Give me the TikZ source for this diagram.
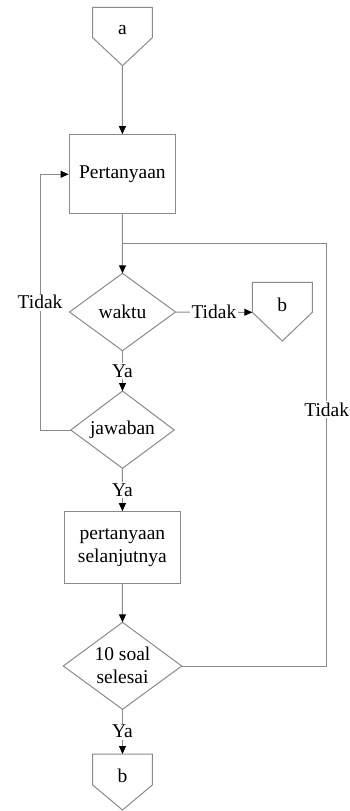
\documentclass[tikz,border=0pt]{standalone}
\usepackage{fontspec}
\setmainfont{Liberation Serif}
\usetikzlibrary{arrows.meta}
\definecolor{ln}{HTML}{8A8A8A}
\tikzset{
  shapeline/.style={draw=ln, line width=1pt},
  flow/.style={draw=ln, line width=1pt, -{Triangle[length=8pt,width=7pt,color=black]}},
  plain/.style={draw=ln, line width=1pt},
  txt/.style={font=\fontsize{19.5}{23}\selectfont, inner sep=0pt, align=center},
  lbl/.style={font=\fontsize{19.5}{23}\selectfont, fill=white, inner sep=1.5pt},
  procbox/.style={shapeline, font=\fontsize{19.5}{23}\selectfont, align=center, inner sep=0pt}
}
\begin{document}
\begin{tikzpicture}[x=1pt,y=-1pt]
\useasboundingbox (0,0) rectangle (350,811);
% connector a
\draw[shapeline] (92.7,7.3) -- (152.3,7.3) -- (152.3,37.7) -- (122.5,65.7) -- (92.7,37.7) -- cycle;
\coordinate (atip) at (122.5,65.7);
\node[txt] (a) at (122.5,30) {a};
% Pertanyaan
\node[procbox, minimum width=106.7pt, minimum height=79.3pt] (P) at (122.4,174.3) {Pertanyaan};
% waktu diamond
\coordinate (wt) at (122.5,273.3);
\coordinate (wr) at (175.5,312);
\coordinate (wb) at (122.5,350.7);
\coordinate (wl) at (69.5,312);
\draw[shapeline] (wt) -- (wr) -- (wb) -- (wl) -- cycle;
\node[txt] (waktu) at (122.5,312) {waktu};
% connector b (right)
\draw[shapeline] (252.3,282.3) -- (312.3,282.3) -- (312.3,312.3) -- (282.3,341) -- (252.3,312.3) -- cycle;
\coordinate (b1in) at (252.3,312.3);
\node[txt] (b1) at (282.3,305) {b};
% jawaban diamond
\coordinate (jt) at (122.5,391);
\coordinate (jr) at (174.2,430);
\coordinate (jb) at (122.5,468.3);
\coordinate (jl) at (70.8,430);
\draw[shapeline] (jt) -- (jr) -- (jb) -- (jl) -- cycle;
\node[txt] (jawaban) at (122.5,430) {jawaban};
% pertanyaan selanjutnya
\node[procbox, minimum width=116pt, minimum height=71.6pt] (PS) at (122.4,547.5) {pertanyaan\\selanjutnya};
% 10 soal diamond
\coordinate (st) at (122.5,622.3);
\coordinate (sr) at (181.7,666);
\coordinate (sb) at (122.5,709.3);
\coordinate (sl) at (63.3,666);
\draw[shapeline] (st) -- (sr) -- (sb) -- (sl) -- cycle;
\node[txt] (soal) at (122.5,665.5) {10 soal\\selesai};
% connector b (bottom)
\draw[shapeline] (92.7,754) -- (152.3,754) -- (152.3,785) -- (122.5,810) -- (92.7,785) -- cycle;
\coordinate (b2in) at (122.5,754);
\node[txt] (b2) at (122.5,776) {b};
% junction and corner points
\coordinate (junc) at (122.5,243.3);
\coordinate (rtop) at (326.7,243.3);
\coordinate (rbot) at (326.7,666);
\coordinate (ltop) at (40,174.3);
\coordinate (lbot) at (40,430);
% connectors
\draw[flow] (atip) -- (P.north);
\draw[flow] (P.south) -- (wt);
\draw[flow] (wr) -- node[lbl] {Tidak} (b1in);
\draw[flow] (wb) -- node[lbl] {Ya} (jt);
\draw[flow] (jl) -- (lbot) -- node[lbl, pos=0.5] {Tidak} (ltop) -- (P.west);
\draw[flow] (jb) -- node[lbl] {Ya} (PS.north);
\draw[flow] (PS.south) -- (st);
\draw[plain] (sr) -- (rbot) -- node[lbl, pos=0.606] {Tidak} (rtop) -- (junc);
\draw[flow] (sb) -- node[lbl] {Ya} (b2in);
\end{tikzpicture}
\end{document}
